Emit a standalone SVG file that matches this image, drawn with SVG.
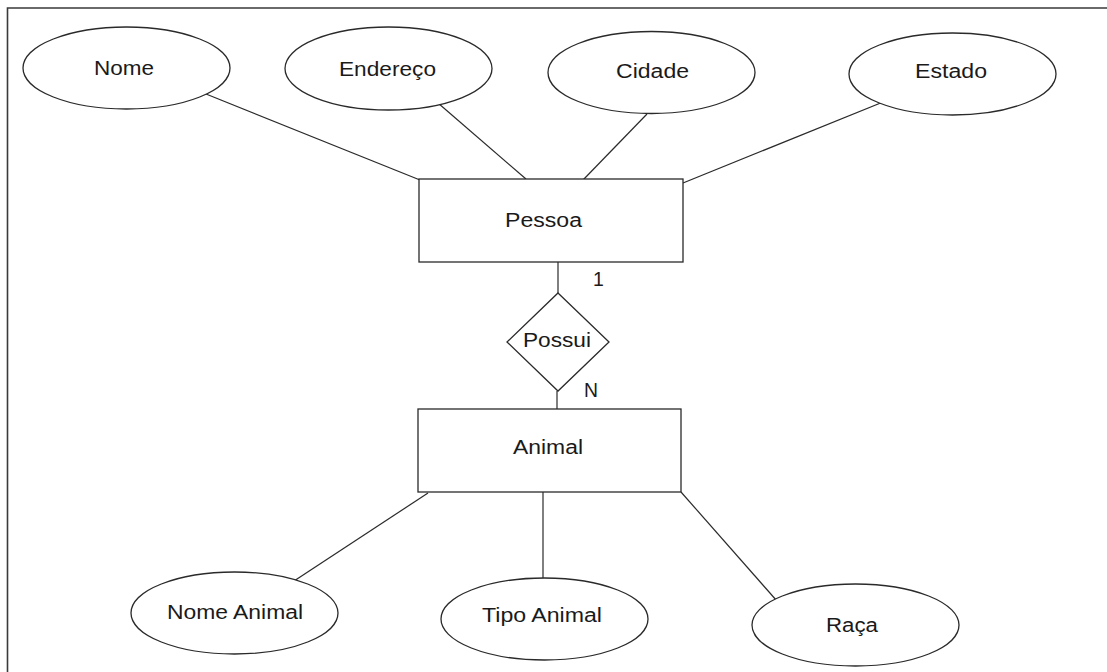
<svg xmlns="http://www.w3.org/2000/svg" width="1107" height="672" viewBox="0 0 1107 672">
  <style>
    .shape { fill: #ffffff; stroke: #2a2a2a; stroke-width: 1.3; }
    .link { stroke: #2a2a2a; stroke-width: 1.2; fill: none; }
    .label { font-family: "Liberation Sans", Arial, sans-serif; font-size: 19.5px; fill: #1a1a1a; }
    .frame { stroke: #3a3a3a; stroke-width: 1.6; fill: none; }
  </style>
  <rect width="1107" height="672" fill="#ffffff"/>
  <!-- page frame: top and left edges only -->
  <path class="frame" d="M7.5 672 V8 H1107"/>

  <!-- connectors -->
  <g id="connectors">
    <line class="link" x1="206" y1="94" x2="420" y2="180"/>
    <line class="link" x1="438" y1="103" x2="526" y2="179"/>
    <line class="link" x1="647" y1="114" x2="583" y2="180"/>
    <line class="link" x1="888" y1="100" x2="683" y2="183"/>
    <line class="link" x1="558" y1="262" x2="558" y2="293"/>
    <line class="link" x1="557" y1="391" x2="557" y2="409"/>
    <line class="link" x1="428" y1="493" x2="294" y2="581"/>
    <line class="link" x1="543" y1="492" x2="543" y2="578"/>
    <line class="link" x1="681" y1="492" x2="777" y2="601"/>
  </g>

  <!-- attributes of Pessoa -->
  <g id="attr-nome">
    <ellipse class="shape" cx="126.5" cy="68" rx="103.5" ry="41"/>
    <text class="label" x="94" y="75" textLength="60" lengthAdjust="spacingAndGlyphs">Nome</text>
  </g>
  <g id="attr-endereco">
    <ellipse class="shape" cx="388.5" cy="68.5" rx="103.5" ry="41.5"/>
    <text class="label" x="339" y="76" textLength="97" lengthAdjust="spacingAndGlyphs">Endereço</text>
  </g>
  <g id="attr-cidade">
    <ellipse class="shape" cx="651.5" cy="72.5" rx="103.5" ry="41"/>
    <text class="label" x="616" y="78" textLength="73" lengthAdjust="spacingAndGlyphs">Cidade</text>
  </g>
  <g id="attr-estado">
    <ellipse class="shape" cx="952.5" cy="74" rx="103.5" ry="41"/>
    <text class="label" x="915" y="78" textLength="72" lengthAdjust="spacingAndGlyphs">Estado</text>
  </g>

  <!-- entity Pessoa -->
  <g id="entity-pessoa">
    <rect class="shape" x="419" y="179" width="264" height="83"/>
    <text class="label" x="505" y="227" textLength="77" lengthAdjust="spacingAndGlyphs">Pessoa</text>
  </g>

  <!-- relationship Possui -->
  <g id="rel-possui">
    <polygon class="shape" points="558,293 609,342 558,391 507,342"/>
    <text class="label" x="523" y="347" textLength="68" lengthAdjust="spacingAndGlyphs">Possui</text>
  </g>

  <!-- cardinalities -->
  <g id="cardinalities">
    <text class="label" x="593" y="286">1</text>
    <text class="label" x="584" y="397" textLength="14" lengthAdjust="spacingAndGlyphs">N</text>
  </g>

  <!-- entity Animal -->
  <g id="entity-animal">
    <rect class="shape" x="418" y="409" width="263" height="83"/>
    <text class="label" x="513" y="454" textLength="70" lengthAdjust="spacingAndGlyphs">Animal</text>
  </g>

  <!-- attributes of Animal -->
  <g id="attr-nome-animal">
    <ellipse class="shape" cx="234.5" cy="613" rx="103.5" ry="41"/>
    <text class="label" x="167" y="619" textLength="136" lengthAdjust="spacingAndGlyphs">Nome Animal</text>
  </g>
  <g id="attr-tipo-animal">
    <ellipse class="shape" cx="544.5" cy="619" rx="103.5" ry="41"/>
    <text class="label" x="482" y="622" textLength="120" lengthAdjust="spacingAndGlyphs">Tipo Animal</text>
  </g>
  <g id="attr-raca">
    <ellipse class="shape" cx="855.5" cy="625" rx="103.5" ry="41"/>
    <text class="label" x="826" y="632" textLength="52" lengthAdjust="spacingAndGlyphs">Raça</text>
  </g>
</svg>
